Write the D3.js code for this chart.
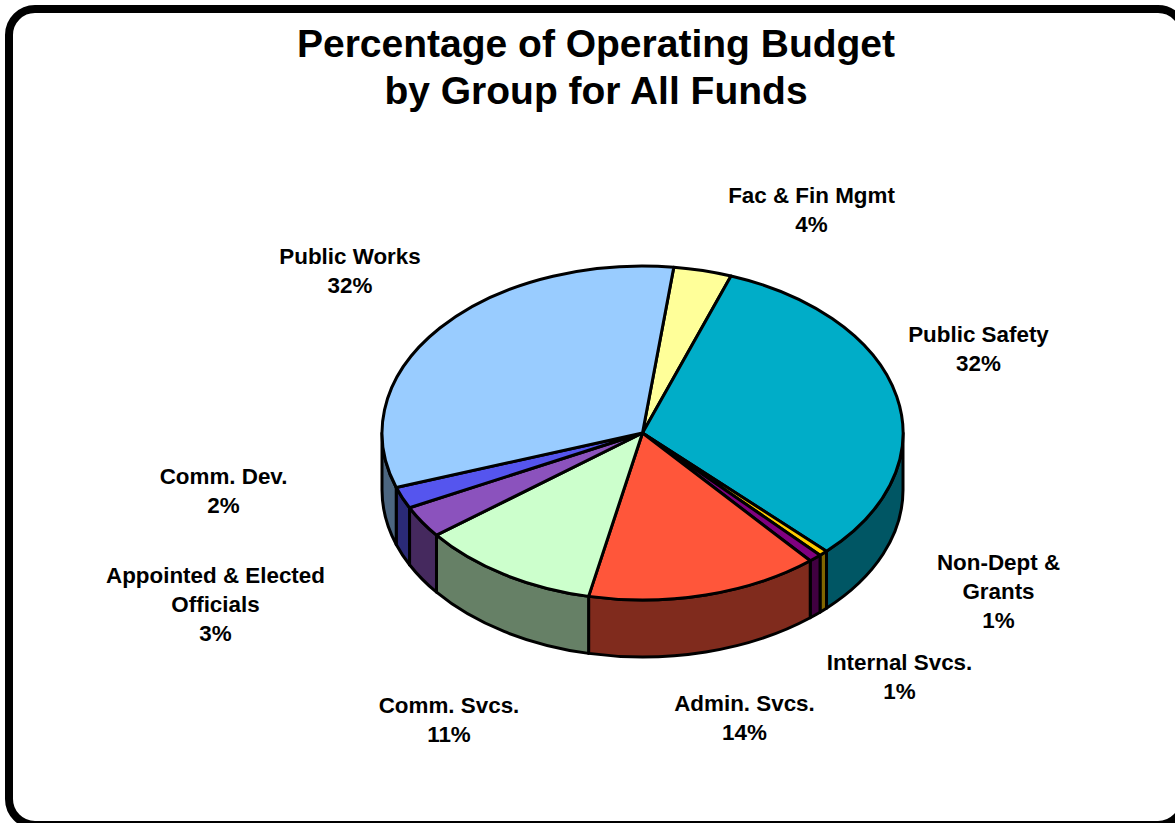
<!DOCTYPE html>
<html>
<head>
<meta charset="utf-8">
<script src="https://cdn.jsdelivr.net/npm/d3@7"></script>
<style>
  html, body { margin: 0; padding: 0; background: #fff; overflow: hidden; }
  svg { display: block; }
  text { font-family: "Liberation Sans", Arial, sans-serif; font-weight: bold; fill: #000; text-anchor: middle; }
</style>
</head>
<body>
<svg id="chart" width="1175" height="823"></svg>
<script>
// Budget groups, clockwise from the Public Works / Fac & Fin Mgmt boundary
const groups = ["Fac & Fin Mgmt", "Public Safety", "Non-Dept & Grants", "Internal Svcs.", "Admin. Svcs.",
                "Comm. Svcs.", "Appointed & Elected Officials", "Comm. Dev.", "Public Works"];
const shares = [3.6, 32.0, 0.55, 0.8, 14.45, 11.2, 3.1, 2.1, 32.2];
const topColors = ["#FFFF99", "#00ADC8", "#FFCC00", "#800080", "#FF563A", "#CCFFCC", "#8B52BD", "#5555EE", "#99CCFF"];
const sideColors = ["#80804C", "#005664", "#806600", "#400040", "#802B1D", "#668066", "#45295E", "#2A2A77", "#4C6680"];
const labelLines = [["Fac & Fin Mgmt"], ["Public Safety"], ["Non-Dept &", "Grants"], ["Internal Svcs."], ["Admin. Svcs."],
                    ["Comm. Svcs."], ["Appointed & Elected", "Officials"], ["Comm. Dev."], ["Public Works"]];

// Centre of each label block and the baseline of its first line
const labelX = [811.5, 978.5, 998.5, 899.5, 744.5, 449, 215.5, 223.5, 350];
const labelY = [203, 342, 570, 670, 711, 713, 583, 484, 264];

const cx = 642.5, cy = 433, rx = 260.5, ry = 167, depth = 57;
const lineGap = 29;
const startDeg = 6.9;
const toRad = Math.PI / 180;

const svg = d3.select("#chart");

// Rounded frame; its right and bottom edges run past the page
svg.append("rect")
  .attr("x", 9).attr("y", 9)
  .attr("width", 1175).attr("height", 816)
  .attr("rx", 26).attr("ry", 26)
  .attr("fill", "#fff").attr("stroke", "#000").attr("stroke-width", 8);

// Title
const title = svg.append("g").style("font-size", "39px");
title.append("text").attr("x", 596).attr("y", 57).text("Percentage of Operating Budget");
title.append("text").attr("x", 596).attr("y", 104).text("by Group for All Funds");

const pie = d3.pie().sort(null)
  .startAngle(startDeg * toRad)
  .endAngle((startDeg + 360) * toRad)
  .value(d => d);
const arcs = pie(shares);

const px = a => cx + rx * Math.sin(a);
const py = (a, dy) => cy + dy - ry * Math.cos(a);

// Side wall of a slice: only the part on the near half of the ellipse shows
function wallPath(d) {
  const a0 = Math.max(d.startAngle, Math.PI / 2);
  const a1 = Math.min(d.endAngle, 1.5 * Math.PI);
  if (a1 <= a0) return null;
  return `M${px(a0)},${py(a0, 0)}` +
         `A${rx},${ry} 0 0 1 ${px(a1)},${py(a1, 0)}` +
         `L${px(a1)},${py(a1, depth)}` +
         `A${rx},${ry} 0 0 0 ${px(a0)},${py(a0, depth)}Z`;
}

svg.append("g").selectAll("path")
  .data(arcs.filter(d => wallPath(d)))
  .join("path")
  .attr("d", wallPath)
  .attr("fill", d => sideColors[d.index])
  .attr("stroke", "#000").attr("stroke-width", 3).attr("stroke-linejoin", "round");

// Top face: a round pie squashed into an ellipse
const arcGen = d3.arc().innerRadius(0).outerRadius(100);
svg.append("g")
  .attr("transform", `translate(${cx},${cy}) scale(${rx / 100},${ry / 100})`)
  .selectAll("path")
  .data(arcs)
  .join("path")
  .attr("d", arcGen)
  .attr("fill", d => topColors[d.index])
  .attr("stroke", "#000").attr("stroke-width", 3).attr("stroke-linejoin", "round")
  .attr("vector-effect", "non-scaling-stroke");

// Labels: group name followed by its rounded share
const labels = svg.append("g").style("font-size", "22.4px");
groups.forEach((g, i) => {
  const lines = labelLines[i].concat(Math.round(shares[i]) + "%");
  lines.forEach((line, j) => {
    labels.append("text")
      .attr("x", labelX[i])
      .attr("y", labelY[i] + j * lineGap)
      .text(line);
  });
});
</script>
</body>
</html>
